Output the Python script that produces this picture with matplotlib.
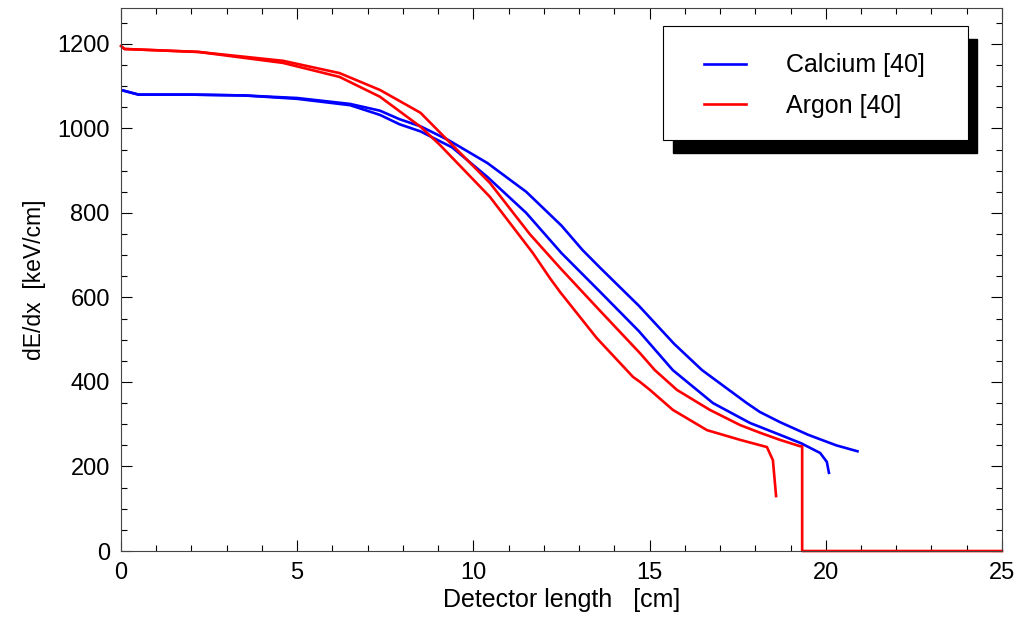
import matplotlib
matplotlib.use("Agg")
import matplotlib.pyplot as plt
from matplotlib.patches import Rectangle
from matplotlib.ticker import MultipleLocator

plt.rcParams['font.family'] = ['Liberation Sans', 'DejaVu Sans']

# stopping power along the detector, two runs per ion
ca1_x = [0.0, 0.5, 2.0, 3.5, 5.0, 6.5, 7.35, 7.9, 8.5, 9.3, 10.4, 11.5, 12.5, 13.1, 13.6,
         14.7, 15.7, 16.49, 17.76, 18.13, 18.7, 19.5, 20.3, 20.9]
ca1_y = [1091, 1080, 1080, 1078, 1072, 1058, 1042, 1022, 1005, 972, 918, 850, 770, 712, 670,
         580, 490, 428, 350, 329, 305, 275, 250, 236]
ca2_x = [0.0, 0.5, 2.0, 3.5, 5.0, 6.5, 7.35, 7.9, 8.5, 9.4, 10.4, 11.5, 12.5, 13.6, 14.7,
         15.66, 16.8, 17.85, 18.7, 19.3, 19.84, 20.03, 20.09]
ca2_y = [1091, 1080, 1080, 1078, 1070, 1055, 1032, 1010, 993, 955, 885, 800, 705, 613, 520,
         428, 350, 303, 275, 255, 232, 211, 185]
ar1_x = [0.0, 0.1, 2.2, 4.6, 6.2, 7.35, 8.5, 9.4, 10.47, 11.6, 12.46, 13.6, 14.73, 15.15,
         15.78, 16.71, 17.57, 18.13, 18.7, 19.27, 19.33, 19.33, 25.0]
ar1_y = [1195, 1188, 1181, 1160, 1131, 1091, 1037, 961, 871, 750, 670, 568, 468, 428,
         381, 334, 298, 280, 263, 248, 248, 0, 0]
ar2_x = [0.0, 0.1, 2.2, 4.6, 6.2, 7.35, 8.5, 9.05, 10.47, 11.69, 12.17, 12.46, 13.5, 14.53,
         14.73, 15.0, 15.66, 16.63, 17.57, 18.33, 18.5, 18.59]
ar2_y = [1195, 1188, 1181, 1155, 1122, 1075, 1004, 961, 838, 705, 646, 613, 504, 412,
         400, 382, 334, 286, 263, 246, 215, 130]

fig = plt.figure(figsize=(10.32, 6.34), dpi=100)
ax = fig.add_axes([0.1172, 0.1309, 0.8537, 0.8565])

l_ca, = ax.plot(ca1_x, ca1_y, color='#0000ff', lw=1.9, label='Calcium [40]')
ax.plot(ca2_x, ca2_y, color='#0000ff', lw=1.9)
l_ar, = ax.plot(ar1_x, ar1_y, color='#ff0000', lw=1.9, label='Argon [40]', clip_on=False)
ax.plot(ar2_x, ar2_y, color='#ff0000', lw=1.9)

ax.set_xlim(0, 25)
ax.set_ylim(0, 1285)
ax.xaxis.set_major_locator(MultipleLocator(5))
ax.xaxis.set_minor_locator(MultipleLocator(1))
ax.yaxis.set_major_locator(MultipleLocator(200))
ax.yaxis.set_minor_locator(MultipleLocator(50))
ax.tick_params(which='both', direction='in', top=True, right=True, labelsize=17, width=0.8)
ax.tick_params(which='major', length=8, pad=8)
ax.tick_params(which='minor', length=4)
for s in ax.spines.values():
    s.set_linewidth(0.8)
    s.set_color('#444444')

ax.set_xlabel('Detector length   [cm]', fontsize=18, labelpad=3)
ax.set_ylabel('dE/dx  [keV/cm]', fontsize=16.5, labelpad=8)

# legend box with a solid drop shadow
ax.add_patch(Rectangle((0.627, 0.733), 0.345, 0.21, transform=ax.transAxes,
                       facecolor='black', edgecolor='black', zorder=5))
ax.add_patch(Rectangle((0.615, 0.757), 0.346, 0.21, transform=ax.transAxes,
                       facecolor='white', edgecolor='black', lw=0.8, zorder=6))
leg = ax.legend(handles=[l_ca, l_ar], loc='center left', bbox_to_anchor=(0.662, 0.857),
                frameon=False, fontsize=18, handlelength=1.68, handletextpad=1.6,
                labelspacing=0.66, borderpad=0, borderaxespad=0)
leg.set_zorder(7)

fig.savefig('out.png', dpi=100)
